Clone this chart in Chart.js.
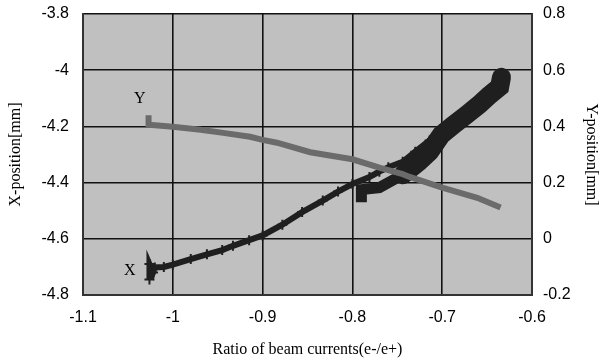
<!DOCTYPE html>
<html>
<head>
<meta charset="utf-8">
<script src="https://cdn.jsdelivr.net/npm/chart.js@4.4.1/dist/chart.umd.min.js"></script>
<style>
  html, body { margin: 0; padding: 0; background: #fff; }
  #wrap { width: 601px; height: 362px; }
</style>
</head>
<body>
<div id="wrap"><canvas id="beamChart"></canvas></div>
<script>
// X-position, first branch (thin, from low ratio up to where it joins the band)
var xThinRatio = [-1.026, -1.026, -1.022, -1.020, -1.010, -1.000, -0.980, -0.962, -0.945, -0.933, -0.915, -0.900, -0.878, -0.856, -0.833, -0.816, -0.800, -0.781, -0.770, -0.760, -0.744, -0.730, -0.714, -0.701];
var xThinPos   = [-4.745, -4.690, -4.720, -4.702, -4.700, -4.692, -4.672, -4.655, -4.640, -4.625, -4.605, -4.588, -4.550, -4.505, -4.464, -4.432, -4.405, -4.380, -4.361, -4.345, -4.326, -4.290, -4.250, -4.215];

// X-position, second branch (thick band, starts at -0.79)
var xBandRatio = [-0.790, -0.790, -0.770, -0.744, -0.726, -0.714, -0.701, -0.687, -0.673, -0.659, -0.648, -0.636, -0.634];
var xBandPos   = [-4.470, -4.425, -4.418, -4.372, -4.326, -4.290, -4.230, -4.194, -4.159, -4.123, -4.091, -4.059, -4.025];

// Y-position
var yRatio = [-1.027, -1.027, -1.020, -1.000, -0.969, -0.944, -0.914, -0.900, -0.884, -0.847, -0.800, -0.770, -0.744, -0.737, -0.700, -0.661, -0.635];
var yPos   = [0.440, 0.406, 0.404, 0.399, 0.388, 0.377, 0.363, 0.352, 0.342, 0.308, 0.283, 0.253, 0.230, 0.221, 0.182, 0.146, 0.111];

var xTicks = [-1.1, -1.0, -0.9, -0.8, -0.7, -0.6];
var leftTicks = [-4.8, -4.6, -4.4, -4.2, -4.0, -3.8];
var rightTicks = [-0.2, 0, 0.2, 0.4, 0.6, 0.8];

function toPoints(xs, ys) {
    return xs.map(function (x, i) { return { x: x, y: ys[i] }; });
}

function fmt(v) {
    return String(Number(v.toFixed(1)));
}

// fond gris de la zone de tracé + étiquettes X / Y
var plotBack = {
    id: 'plotBack',
    beforeDraw: function (chart) {
        var a = chart.chartArea, c = chart.ctx;
        c.save();
        c.fillStyle = '#c0c0c0';
        c.fillRect(a.left, a.top, a.right - a.left, a.bottom - a.top);
        c.restore();
    },
    afterDraw: function (chart) {
        var c = chart.ctx, s = chart.scales;
        c.save();
        c.fillStyle = '#000';
        c.font = '16px "Liberation Serif"';
        c.textAlign = 'center';
        c.textBaseline = 'middle';
        c.fillText('Y', s.x.getPixelForValue(-1.0367), s.yR.getPixelForValue(0.498));
        c.fillText('X', s.x.getPixelForValue(-1.0478), s.yL.getPixelForValue(-4.713));
        c.restore();
    }
};

var tickFont = { family: '"Liberation Sans", Arial, sans-serif', size: 16 };
var titleFont = { family: '"Liberation Serif", "Times New Roman", serif', size: 16 };
var gridStyle = { color: '#111', lineWidth: 1.6, drawTicks: false };

var bandLow = 4;  // index where the thick band widens

function fitWidth(w) {
    return function (s) {
        s.width = w;
        s.paddingTop = 0;
        s.paddingBottom = 0;
    };
}

new Chart(document.getElementById('beamChart').getContext('2d'), {
    type: 'scatter',
    data: {
        datasets: [
            {
                label: 'Y',
                data: toPoints(yRatio, yPos),
                yAxisID: 'yR',
                showLine: true,
                borderColor: '#6b6b6b',
                borderWidth: 6,
                pointRadius: 0,
                order: 0
            },
            {
                label: 'X thin',
                data: toPoints(xThinRatio, xThinPos),
                yAxisID: 'yL',
                showLine: true,
                borderColor: '#1f1f1f',
                borderWidth: 6,
                pointStyle: 'cross',
                pointRadius: 5,
                pointBorderWidth: 2,
                pointBorderColor: '#1f1f1f',
                order: 1
            },
            {
                label: 'X band low',
                data: toPoints(xBandRatio.slice(0, bandLow), xBandPos.slice(0, bandLow)),
                yAxisID: 'yL',
                showLine: true,
                borderColor: '#1f1f1f',
                borderWidth: 11,
                borderCapStyle: 'butt',
                pointRadius: 0,
                order: 1
            },
            {
                label: 'X band high',
                data: toPoints(xBandRatio.slice(bandLow - 1), xBandPos.slice(bandLow - 1)),
                yAxisID: 'yL',
                showLine: true,
                borderColor: '#1f1f1f',
                borderWidth: 19,
                borderCapStyle: 'round',
                pointRadius: 0,
                order: 1
            }
        ]
    },
    options: {
        responsive: true,
        maintainAspectRatio: false,
        animation: false,
        layout: { padding: { top: 14, left: 0, right: 0, bottom: 0 } },
        plugins: { legend: { display: false }, tooltip: { enabled: false } },
        scales: {
            x: {
                type: 'linear',
                min: -1.1, max: -0.6,
                afterBuildTicks: function (s) { s.ticks = xTicks.map(function (v) { return { value: v }; }); },
                afterFit: function (s) { s.height = 67; s.paddingLeft = 0; s.paddingRight = 0; },
                grid: gridStyle,
                border: { color: '#333', width: 2 },
                ticks: { font: tickFont, color: '#000', padding: 13, maxRotation: 0, callback: fmt },
                title: { display: true, text: 'Ratio of beam currents(e-/e+)', font: titleFont, color: '#000', padding: { top: 0, bottom: 3 } }
            },
            yL: {
                type: 'linear',
                position: 'left',
                min: -4.8, max: -3.8,
                afterBuildTicks: function (s) { s.ticks = leftTicks.map(function (v) { return { value: v }; }); },
                afterFit: fitWidth(83),
                grid: gridStyle,
                border: { color: '#333', width: 2 },
                ticks: { font: tickFont, color: '#000', padding: 14, callback: fmt },
                title: { display: true, text: 'X-position[mm]', font: titleFont, color: '#000', padding: { top: 6, bottom: 0 } }
            },
            yR: {
                type: 'linear',
                position: 'right',
                min: -0.2, max: 0.8,
                afterBuildTicks: function (s) { s.ticks = rightTicks.map(function (v) { return { value: v }; }); },
                afterFit: fitWidth(69),
                grid: { display: false, drawTicks: false },
                border: { color: '#333', width: 2 },
                ticks: { font: tickFont, color: '#000', padding: 11, callback: fmt },
                title: { display: true, text: 'Y-position[mm]', font: titleFont, color: '#000', padding: { top: 0, bottom: 0 } }
            }
        }
    },
    plugins: [plotBack]
});
</script>
</body>
</html>
